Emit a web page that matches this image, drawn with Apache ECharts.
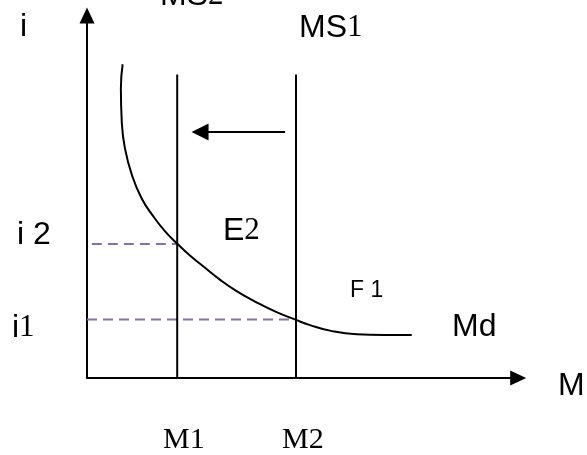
<!DOCTYPE html>
<html>
<head>
    <meta charset="utf-8"/>
    <title>Md MS</title>
    <script src="https://cdn.jsdelivr.net/npm/echarts@6/dist/echarts.min.js"></script>
    <style>
        html, body { margin: 0; padding: 0; background: #fff; }
        #chart { width: 587px; height: 455px; }
    </style>
</head>
<body>
<div id="chart"></div>
<script type="text/javascript">
    // 货币需求曲线 Md
    var mdX = [8.1, 7.7, 7.9, 8.6, 10.2, 12.4, 15.0, 17.7, 20.6, 23.4, 26.4, 30.2, 34.0, 38.6, 43.1, 47.5, 50.7, 55.2, 61.3, 67.3, 73.8];
    var mdY = [84.8, 78.3, 69.3, 62.2, 54.9, 48.6, 43.8, 39.7, 36.2, 33.1, 30.2, 26.6, 23.5, 20.4, 17.8, 15.7, 14.3, 12.8, 11.8, 11.6, 11.6];
    // 货币供给 MS2 / MS1 的位置
    var msX = [20.5, 47.5];
    var msTop = 82;
    // 利率 i2 / i1 和虚线起点
    var iLevel = [36.2, 15.8];
    var dashFrom = [1.1, 0];
    // 左移箭头
    var shiftFrom = [45, 66.5];
    var shiftTo = [25.7, 66.5];

    var sans = 'Liberation Sans';
    var serif = 'Liberation Serif';

    function txt(x, y, text, size) {
        return {
            type: 'text', x: x, y: y, silent: true,
            style: {
                text: text, fill: '#000', verticalAlign: 'middle',
                rich: {
                    s: {fontFamily: sans, fontSize: size || 32, fill: '#000'},
                    r: {fontFamily: serif, fontSize: size || 31, fill: '#000'}
                }
            }
        };
    }

    var chart = echarts.init(document.getElementById('chart'));
    chart.setOption({
        animation: false,
        grid: {left: 87, top: 15.4, width: 431.2, height: 362.6},
        xAxis: {
            type: 'value', min: 0, max: 98,
            splitLine: {show: false}, axisTick: {show: false}, axisLabel: {show: false},
            axisLine: {show: true, symbol: ['none', 'triangle'], symbolSize: [15, 16],
                lineStyle: {color: '#000', width: 2}}
        },
        yAxis: {
            type: 'value', min: 0, max: 98,
            splitLine: {show: false}, axisTick: {show: false}, axisLabel: {show: false},
            axisLine: {show: true, symbol: ['none', 'triangle'], symbolSize: [15, 16],
                lineStyle: {color: '#000', width: 2}}
        },
        series: [
            {
                type: 'line', smooth: true, symbol: 'none',
                lineStyle: {color: '#000', width: 2},
                data: mdX.map(function (x, i) { return [x, mdY[i]]; })
            },
            {
                type: 'line', symbol: 'none', lineStyle: {color: '#000', width: 2},
                data: [[msX[0], 0], [msX[0], msTop]]
            },
            {
                type: 'line', symbol: 'none', lineStyle: {color: '#000', width: 2},
                data: [[msX[1], 0], [msX[1], msTop]]
            },
            {
                type: 'line', symbol: 'none', z: 1,
                lineStyle: {color: '#8670a8', width: 2, type: [10, 6]},
                data: [[dashFrom[0], iLevel[0]], [msX[0], iLevel[0]]]
            },
            {
                type: 'line', symbol: 'none', z: 1,
                lineStyle: {color: '#8670a8', width: 2, type: [10, 6]},
                data: [[dashFrom[1], iLevel[1]], [msX[1], iLevel[1]]]
            },
            {
                type: 'lines', coordinateSystem: 'cartesian2d',
                symbol: ['none', 'triangle'], symbolSize: [14, 17],
                lineStyle: {color: '#000', width: 2, opacity: 1},
                data: [{coords: [shiftFrom, shiftTo]}]
            }
        ],
        graphic: [
            txt(20, 27, '{s|i}'),
            txt(160, -4, '{s|MS}{r|2}'),
            txt(440, -16, '{s|(a)}'),
            txt(299, 28, '{s|MS}{r|1}'),
            txt(17, 235, '{s|i 2}'),
            txt(223, 231, '{s|E}{r|2}'),
            txt(350, 291, '{s|F 1}', 23),
            txt(12, 328, '{s|i}{r|1}'),
            txt(452, 327, '{s|Md}'),
            txt(558, 386, '{s|M}'),
            txt(163, 440, '{r|M1}', 30),
            txt(282, 440, '{r|M2}', 30)
        ]
    });
</script>
</body>
</html>
